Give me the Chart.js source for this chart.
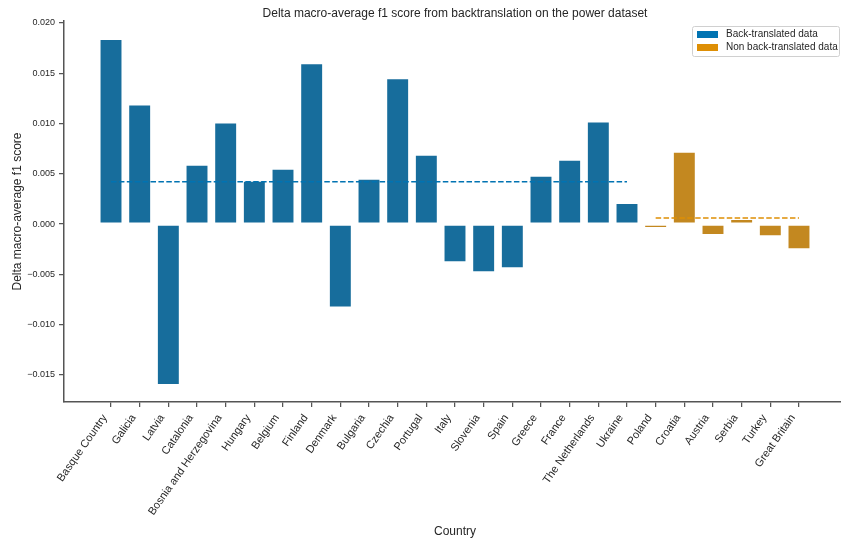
<!DOCTYPE html>
<html>
<head>
<meta charset="utf-8">
<title>Delta macro-average f1 score</title>
<script src="https://cdn.jsdelivr.net/npm/chart.js@4"></script>
<style>
  html, body { margin: 0; padding: 0; background: #fff; }
  #wrap { width: 841px; height: 543px; overflow: hidden; position: relative; }
  canvas { display: block; }
</style>
</head>
<body>
<div id="wrap"><canvas id="chart" width="860" height="543"></canvas></div>
<script>
/* ─── Data ───────────────────────────────────────────────────── */
const COUNTRIES = [
  'Basque Country', 'Galicia', 'Latvia', 'Catalonia', 'Bosnia and Herzegovina',
  'Hungary', 'Belgium', 'Finland', 'Denmark', 'Bulgaria', 'Czechia', 'Portugal',
  'Italy', 'Slovenia', 'Spain', 'Greece', 'France', 'The Netherlands', 'Ukraine',
  'Poland', 'Croatia', 'Austria', 'Serbia', 'Turkey', 'Great Britain',
];
const BACK_TRANSLATED = [
  0.0184, 0.0119, -0.0160, 0.0059, 0.0101, 0.0043, 0.0055, 0.0160, -0.0083,
  0.0045, 0.0145, 0.0069, -0.0038, -0.0048, -0.0044, 0.0048, 0.0064, 0.0102, 0.0021,
];
const NON_BACK_TRANSLATED = [-0.0004, 0.0072, -0.0011, 0.0005, -0.0012, -0.0025];
const BACK_MEAN     = 0.0042;
const NON_BACK_MEAN = 0.0006;
const Y_TICKS = [-0.015, -0.010, -0.005, 0.000, 0.005, 0.010, 0.015, 0.020];

const TITLE  = 'Delta macro-average f1 score from backtranslation on the power dataset';
const LABELS = ['Back-translated data', 'Non back-translated data'];

/* ─── Style ──────────────────────────────────────────────────── */
const FONT       = '"Liberation Sans", Arial, sans-serif';
const TEXT       = '#262626';
const AXIS       = '#555555';
const BLUE_BAR   = '#176d9c';
const ORANGE_BAR = '#c38820';
const BLUE       = '#0173b2';
const ORANGE     = '#de8f05';

Chart.defaults.font.family = FONT;
Chart.defaults.color = TEXT;

/* ─── Build datasets ─────────────────────────────────────────── */
const nBack = BACK_TRANSLATED.length;
const backPoints    = BACK_TRANSLATED.map((v, i) => ({ x: i, y: v }));
const nonBackPoints = NON_BACK_TRANSLATED.map((v, i) => ({ x: nBack + i, y: v }));
const backMeanLine    = [{ x: 0, y: BACK_MEAN }, { x: nBack - 1, y: BACK_MEAN }];
const nonBackMeanLine = [{ x: nBack, y: NON_BACK_MEAN }, { x: COUNTRIES.length - 1, y: NON_BACK_MEAN }];

const barStyle = {
  type: 'bar',
  grouped: false,
  borderColor: 'rgba(255,255,255,0.55)',
  borderWidth: 1,
  borderSkipped: false,
  barPercentage: 0.8,
  categoryPercentage: 1,
  order: 2,
};
const lineStyle = {
  type: 'line',
  borderWidth: 1.5,
  borderDash: [5.5, 2.4],
  pointRadius: 0,
  fill: false,
  order: 0,
};

/* ─── Title + legend drawn on the canvas ─────────────────────── */
const headerPlugin = {
  id: 'header',
  afterDraw(chart) {
    const { ctx, chartArea } = chart;
    ctx.save();
    ctx.fillStyle = TEXT;
    ctx.font = `12px ${FONT}`;
    ctx.textAlign = 'center';
    ctx.textBaseline = 'middle';
    ctx.fillText(TITLE, (chartArea.left + chartArea.right) / 2, 14);

    // legend box
    ctx.fillStyle = 'rgba(255,255,255,0.8)';
    ctx.strokeStyle = '#d0d0d0';
    ctx.lineWidth = 1;
    ctx.beginPath();
    ctx.roundRect(692.5, 26.5, 147, 30, 2);
    ctx.fill();
    ctx.stroke();

    ctx.font = `10px ${FONT}`;
    ctx.textAlign = 'left';
    [BLUE, ORANGE].forEach((color, i) => {
      const cy = 34.5 + i * 13;
      ctx.fillStyle = color;
      ctx.fillRect(697, cy - 3.5, 21, 7);
      ctx.fillStyle = TEXT;
      ctx.fillText(LABELS[i], 726, cy);
    });
    ctx.restore();
  },
};

/* ─── Chart ──────────────────────────────────────────────────── */
new Chart(document.getElementById('chart'), {
  data: {
    datasets: [
      { ...barStyle, label: LABELS[0], data: backPoints, backgroundColor: BLUE_BAR },
      { ...barStyle, label: LABELS[1], data: nonBackPoints, backgroundColor: ORANGE_BAR },
      { ...lineStyle, data: backMeanLine, borderColor: BLUE },
      { ...lineStyle, data: nonBackMeanLine, borderColor: ORANGE },
    ],
  },
  options: {
    responsive: false,
    animation: false,
    devicePixelRatio: 1,
    layout: { padding: { top: 21, right: 14, left: 0, bottom: 0 } },
    plugins: {
      legend: { display: false },
      tooltip: { enabled: false },
      title: { display: false },
    },
    scales: {
      x: {
        type: 'linear',
        offset: false,
        min: -1.64,
        max: 25.64,
        afterBuildTicks: (scale) => { scale.ticks = COUNTRIES.map((_, i) => ({ value: i })); },
        afterFit: (scale) => { scale.height = 141; },
        grid: { offset: false, drawOnChartArea: false, color: AXIS, tickLength: 5, lineWidth: 1.25 },
        border: { color: AXIS, width: 1.5 },
        ticks: {
          autoSkip: false,
          minRotation: 55,
          maxRotation: 55,
          padding: 5,
          labelOffset: -6,
          font: { size: 11 },
          callback: (v) => COUNTRIES[v],
        },
        title: { display: true, text: 'Country', font: { size: 12 }, padding: { top: 0, bottom: 4 } },
      },
      y: {
        type: 'linear',
        min: -0.0177,
        max: 0.0202,
        afterBuildTicks: (scale) => { scale.ticks = Y_TICKS.map((v) => ({ value: v })); },
        afterFit: (scale) => { scale.width = 64; },
        grid: { drawOnChartArea: false, color: AXIS, tickLength: 5, lineWidth: 1.25 },
        border: { color: AXIS, width: 1.5 },
        ticks: {
          padding: 4,
          font: { size: 9 },
          callback: (v) => (Math.abs(v) < 1e-9 ? '0.000' : v.toFixed(3).replace('-', '\u2212')),
        },
        title: { display: true, text: 'Delta macro-average f1 score', font: { size: 12 }, padding: { top: 10, bottom: 0 } },
      },
    },
  },
  plugins: [headerPlugin],
});
</script>
</body>
</html>
